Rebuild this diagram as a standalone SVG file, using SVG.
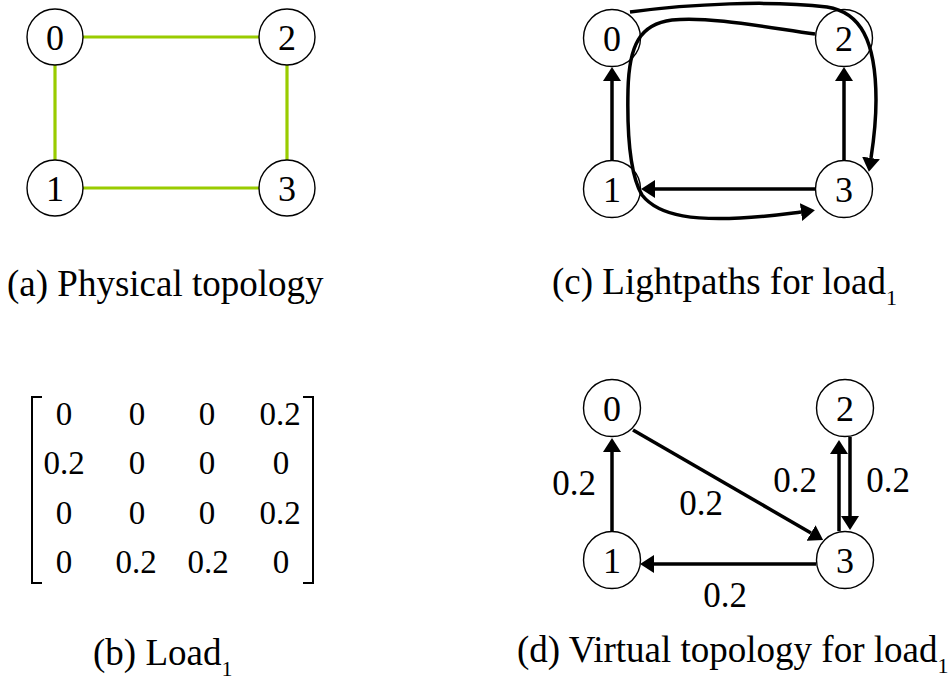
<svg xmlns="http://www.w3.org/2000/svg" width="952" height="680" viewBox="0 0 952 680">
  <style>
    .node circle { fill: #ffffff; stroke: #000000; stroke-width: 1.4; }
    text { font-family: "Liberation Serif", "Times New Roman", serif; fill: #000000; }
    .node text { font-size: 36px; text-anchor: middle; }
    .lbl { font-size: 35px; text-anchor: middle; }
    .cap { font-size: 37px; }
    .sub { font-size: 22px; }
    .mx { font-size: 33px; text-anchor: middle; }
    .phys { stroke: #99cc00; stroke-width: 3.2; fill: none; }
    .lp { stroke: #000000; stroke-width: 3.5; fill: none; marker-end: url(#head); }
    .bracket { stroke: #000000; stroke-width: 2; fill: none; }
  </style>
  <defs>
    <marker id="head" markerUnits="userSpaceOnUse" viewBox="0 0 14 18" refX="0" refY="9" markerWidth="14" markerHeight="18" orient="auto">
      <path d="M0,0 L14,9 L0,18 z" fill="#000000"/>
    </marker>
  </defs>
  <rect width="952" height="680" fill="#ffffff"/>

  <!-- (a) physical topology -->
  <g id="a-links">
    <line class="phys" x1="83" y1="37" x2="259" y2="37"/>
    <line class="phys" x1="55" y1="65" x2="55" y2="160"/>
    <line class="phys" x1="287" y1="65" x2="287" y2="160"/>
    <line class="phys" x1="83" y1="188" x2="259" y2="188"/>
  </g>
  <g id="a-n0" class="node"><circle cx="55" cy="37" r="28"/><text x="55" y="50">0</text></g>
  <g id="a-n2" class="node"><circle cx="287" cy="37" r="28"/><text x="287" y="50">2</text></g>
  <g id="a-n1" class="node"><circle cx="55" cy="188" r="28"/><text x="55" y="201">1</text></g>
  <g id="a-n3" class="node"><circle cx="287" cy="188" r="28"/><text x="287" y="201">3</text></g>
  <text class="cap" x="7" y="296">(a) Physical topology</text>

  <!-- (c) lightpaths -->
  <g id="c-n0" class="node"><circle cx="612" cy="38" r="28.5"/><text x="612" y="51">0</text></g>
  <g id="c-n2" class="node"><circle cx="844" cy="38" r="28.5"/><text x="844" y="51">2</text></g>
  <g id="c-n1" class="node"><circle cx="612" cy="189" r="28.5"/><text x="612" y="202">1</text></g>
  <g id="c-n3" class="node"><circle cx="844" cy="189" r="28.5"/><text x="844" y="202">3</text></g>
  <g id="c-links">
    <line class="lp" x1="612" y1="160" x2="612" y2="81"/>
    <line class="lp" x1="844" y1="160" x2="844" y2="81"/>
    <line class="lp" x1="815" y1="189" x2="655" y2="189"/>
    <path class="lp" d="M630 12 C690 4 770 0 827 7 C860 12 876 40 876 100 C876 125 873 145 871 158"/>
    <path class="lp" d="M815 34 C770 28 710 16 672 20 C640 24 629 45 628 90 C627 135 630 175 642 195 C660 218 700 220 740 218 C765 217 785 214 801 212"/>
  </g>
  <text class="cap" x="552" y="294">(c) Lightpaths for load<tspan class="sub" dy="11">1</tspan></text>

  <!-- (b) load matrix -->
  <g id="b-matrix">
    <path class="bracket" d="M42 397 L32 397 L32 583 L42 583"/>
    <path class="bracket" d="M303 397 L313 397 L313 583 L303 583"/>
    <text class="mx" x="64" y="425">0</text>
    <text class="mx" x="137" y="425">0</text>
    <text class="mx" x="207" y="425">0</text>
    <text class="mx" x="280" y="425">0.2</text>
    <text class="mx" x="64" y="474">0.2</text>
    <text class="mx" x="137" y="474">0</text>
    <text class="mx" x="207" y="474">0</text>
    <text class="mx" x="281" y="474">0</text>
    <text class="mx" x="64" y="524">0</text>
    <text class="mx" x="137" y="524">0</text>
    <text class="mx" x="207" y="524">0</text>
    <text class="mx" x="280" y="524">0.2</text>
    <text class="mx" x="64" y="573">0</text>
    <text class="mx" x="136" y="573">0.2</text>
    <text class="mx" x="208" y="573">0.2</text>
    <text class="mx" x="281" y="573">0</text>
  </g>
  <text class="cap" x="93" y="665">(b) Load<tspan class="sub" dy="11">1</tspan></text>

  <!-- (d) virtual topology -->
  <g id="d-n0" class="node"><circle cx="612" cy="408" r="28.5"/><text x="612" y="421">0</text></g>
  <g id="d-n2" class="node"><circle cx="845" cy="408" r="28.5"/><text x="845" y="421">2</text></g>
  <g id="d-n1" class="node"><circle cx="612" cy="560" r="28.5"/><text x="612" y="573">1</text></g>
  <g id="d-n3" class="node"><circle cx="845" cy="560" r="28.5"/><text x="845" y="573">3</text></g>
  <g id="d-links">
    <line class="lp" x1="612" y1="532" x2="612" y2="452"/>
    <line class="lp" x1="633" y1="430" x2="811" y2="533"/>
    <line class="lp" x1="816" y1="564" x2="654" y2="564"/>
    <line class="lp" x1="839" y1="531" x2="839" y2="454"/>
    <line class="lp" x1="850" y1="437" x2="850" y2="516"/>
  </g>
  <g id="d-labels">
    <text class="lbl" x="574" y="495">0.2</text>
    <text class="lbl" x="701" y="515">0.2</text>
    <text class="lbl" x="795" y="492">0.2</text>
    <text class="lbl" x="888" y="492">0.2</text>
    <text class="lbl" x="725" y="607">0.2</text>
  </g>
  <text class="cap" x="517" y="662">(d) Virtual topology for load<tspan class="sub" dy="11">1</tspan></text>
</svg>
